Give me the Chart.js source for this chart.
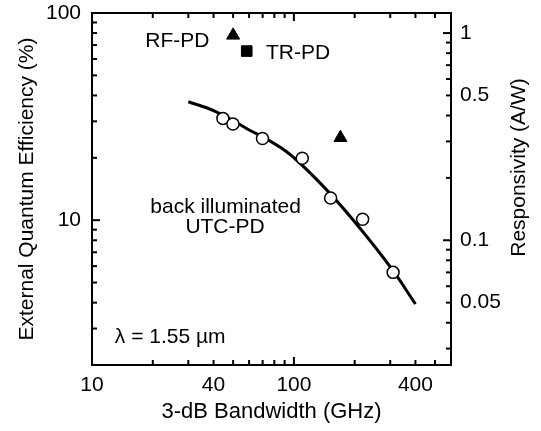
<!DOCTYPE html>
<html>
<head>
<meta charset="utf-8">
<script src="https://cdn.jsdelivr.net/npm/chart.js@4.4.0/dist/chart.umd.min.js"></script>
<style>
  html, body { margin: 0; padding: 0; background: #fff; }
</style>
</head>
<body>
<canvas id="myChart" width="541" height="431"></canvas>
<script>
// UTC-PD Messpunkte (GHz / %)
const utcBandwidth = [44.5, 49.9, 69.9, 110, 152, 219, 310];
const utcEfficiency = [31.0, 29.1, 24.8, 19.9, 12.8, 10.1, 5.6];

// Fitkurve
const fitBandwidth = [30, 40, 58, 92, 135, 197, 308, 400];
const fitEfficiency = [37.3, 33.8, 27.8, 21.4, 15.1, 10.0, 5.75, 3.94];

// Vergleichs-PDs
const triBandwidth = [50, 170];
const triEfficiency = [78, 25];
const trBandwidth = [58.4];
const trEfficiency = [65.5];

// Achsen-Ticks
const xTicks = [10, 20, 30, 40, 50, 60, 70, 80, 90, 100, 200, 300, 400, 500];
const xLabels = [10, 40, 100, 400];
const xMajor = [10, 100];
const yTicks = [2, 3, 4, 5, 6, 7, 8, 9, 10, 20, 30, 40, 50, 60, 70, 80, 90, 100];
const yLabels = [10, 100];
const yMajor = [10, 100];
const rTicks = [0.03, 0.04, 0.05, 0.06, 0.07, 0.08, 0.09, 0.1, 0.2, 0.3, 0.4, 0.5, 0.6, 0.7, 0.8, 0.9, 1];
const rLabels = [0.05, 0.1, 0.5, 1];
const rMajor = [0.1, 1];

// Beschriftungen im Plot (Datenkoordinaten)
const notes = [
    { text: "RF-PD", x: 26.5, y: 72.8 },
    { text: "TR-PD", x: 104.8, y: 63.7 },
    { text: "back illuminated", x: 45.9, y: 11.6 },
    { text: "UTC-PD", x: 45.6, y: 9.25 },
    { text: "\u03bb = 1.55 \u00b5m", x: 24.4, y: 2.72 },
];

const FONT = "'Liberation Sans', Arial, Helvetica, sans-serif";
Chart.defaults.font.family = FONT;
Chart.defaults.font.size = 21;
Chart.defaults.color = "#000";

function toPoints(xs, ys) {
    return xs.map((x, i) => ({ x: x, y: ys[i] }));
}

// Tickmarken als kurze Striche, nach innen (aussen wird weggeclippt)
function tickSet(points, sizes, rotation, axisId) {
    return {
        label: "ticks",
        data: points,
        yAxisID: axisId,
        showLine: false,
        pointStyle: "line",
        pointRotation: rotation,
        pointRadius: sizes,
        pointBorderColor: "#000000",
        pointBorderWidth: 2,
        clip: 0,
    };
}

//Texte im Plot + rechter Achsentitel
const notesPlugin = {
    id: "notes",
    afterDatasetsDraw(chart) {
        const { ctx, scales } = chart;
        ctx.save();
        ctx.fillStyle = "#000000";
        ctx.font = "21px " + FONT;
        ctx.textAlign = "center";
        ctx.textBaseline = "middle";
        for (const n of notes) {
            ctx.fillText(n.text, scales.x.getPixelForValue(n.x), scales.y.getPixelForValue(n.y));
        }
        // von unten nach oben
        ctx.translate(519.5, 167.5);
        ctx.rotate(-Math.PI / 2);
        ctx.fillText("Responsivity (A/W)", 0, 0);
        ctx.restore();
    }
};

//Rahmen
const frame = {
    id: "frame",
    afterDraw(chart) {
        const { ctx, chartArea } = chart;
        const L = chartArea.left, R = chartArea.right, T = chartArea.top, B = chartArea.bottom;
        ctx.save();
        ctx.fillStyle = "#000000";
        ctx.fillRect(L - 1, T - 1, R - L + 2, 2);
        ctx.fillRect(L - 1, B - 1, R - L + 2, 2);
        ctx.fillRect(L - 1, T - 1, 2, B - T + 2);
        ctx.fillRect(R - 1, T - 1, 2, B - T + 2);
        ctx.restore();
    }
};

const xSizes = xTicks.map(v => xMajor.includes(v) ? 8 : 5);
const ySizes = yTicks.map(v => yMajor.includes(v) ? 8 : 5);
const rSizes = rTicks.map(v => rMajor.includes(v) ? 8 : 5);

const data = {
    datasets: [
        {
            label: "UTC-PD",
            data: toPoints(utcBandwidth, utcEfficiency),
            showLine: false,
            pointStyle: "circle",
            pointRadius: 6,
            pointBackgroundColor: "#FFFFFF",
            pointBorderColor: "#000000",
            pointBorderWidth: 1.5,
        },
        {
            label: "RF-PD",
            data: toPoints(triBandwidth, triEfficiency),
            showLine: false,
            pointStyle: "triangle",
            pointRadius: 7.5,
            pointBackgroundColor: "#000000",
            pointBorderColor: "#000000",
            pointBorderWidth: 1,
        },
        {
            label: "TR-PD",
            data: toPoints(trBandwidth, trEfficiency),
            showLine: false,
            pointStyle: "rect",
            pointRadius: 7.5,
            pointBackgroundColor: "#000000",
            pointBorderColor: "#000000",
            pointBorderWidth: 1,
        },
        {
            label: "Fit",
            data: toPoints(fitBandwidth, fitEfficiency),
            showLine: true,
            borderColor: "#000000",
            borderWidth: 3,
            pointRadius: 0,
            cubicInterpolationMode: "monotone",
            fill: false,
        },
        tickSet(xTicks.map(v => ({ x: v, y: 2 })), xSizes, 90, "y"),
        tickSet(xTicks.map(v => ({ x: v, y: 100 })), xSizes, 90, "y"),
        tickSet(yTicks.map(v => ({ x: 10, y: v })), ySizes, 0, "y"),
        tickSet(rTicks.map(v => ({ x: 600, y: v })), rSizes, 0, "y2"),
    ]
};

const config = {
    type: "scatter",
    data: data,
    options: {
        responsive: false,
        animation: false,
        layout: { padding: { top: 13, left: 0, right: 0, bottom: 0 } },
        scales: {
            x: {
                type: "logarithmic",
                position: "bottom",
                min: 10,
                max: 600,
                afterBuildTicks: s => { s.ticks = xTicks.map(v => ({ value: v })); },
                afterFit: s => { s.height = 66; s.paddingLeft = 0; s.paddingRight = 0; },
                grid: { display: false, drawTicks: false },
                border: { display: false },
                ticks: {
                    padding: 8,
                    maxRotation: 0,
                    autoSkip: false,
                    callback: v => xLabels.includes(v) ? String(v) : ""
                },
                title: {
                    display: true,
                    text: "3-dB Bandwidth (GHz)",
                    font: { size: 22 },
                    padding: { top: 0, bottom: 6 }
                }
            },
            y: {
                type: "logarithmic",
                position: "left",
                min: 2,
                max: 100,
                afterBuildTicks: s => { s.ticks = yTicks.map(v => ({ value: v })); },
                afterFit: s => { s.width = 92; s.paddingTop = 0; s.paddingBottom = 0; },
                grid: { display: false, drawTicks: false },
                border: { display: false },
                ticks: {
                    padding: 11,
                    autoSkip: false,
                    callback: v => yLabels.includes(v) ? String(v) : ""
                },
                title: {
                    display: true,
                    text: "External Quantum Efficiency (%)",
                    font: { size: 21 },
                    padding: { top: 15, bottom: 0 }
                }
            },
            y2: {
                type: "logarithmic",
                position: "right",
                min: 0.025,
                max: 1.25,
                afterBuildTicks: s => { s.ticks = rTicks.map(v => ({ value: v })); },
                afterFit: s => { s.width = 90; s.paddingTop = 0; s.paddingBottom = 0; },
                grid: { display: false, drawTicks: false },
                border: { display: false },
                ticks: {
                    padding: 9,
                    autoSkip: false,
                    callback: v => rLabels.includes(v) ? String(v) : ""
                }
            }
        },
        plugins: {
            legend: { display: false },
            tooltip: { enabled: false }
        },
        events: []
    },
    plugins: [notesPlugin, frame]
};

const myChart = new Chart(document.getElementById("myChart"), config);
</script>
</body>
</html>
